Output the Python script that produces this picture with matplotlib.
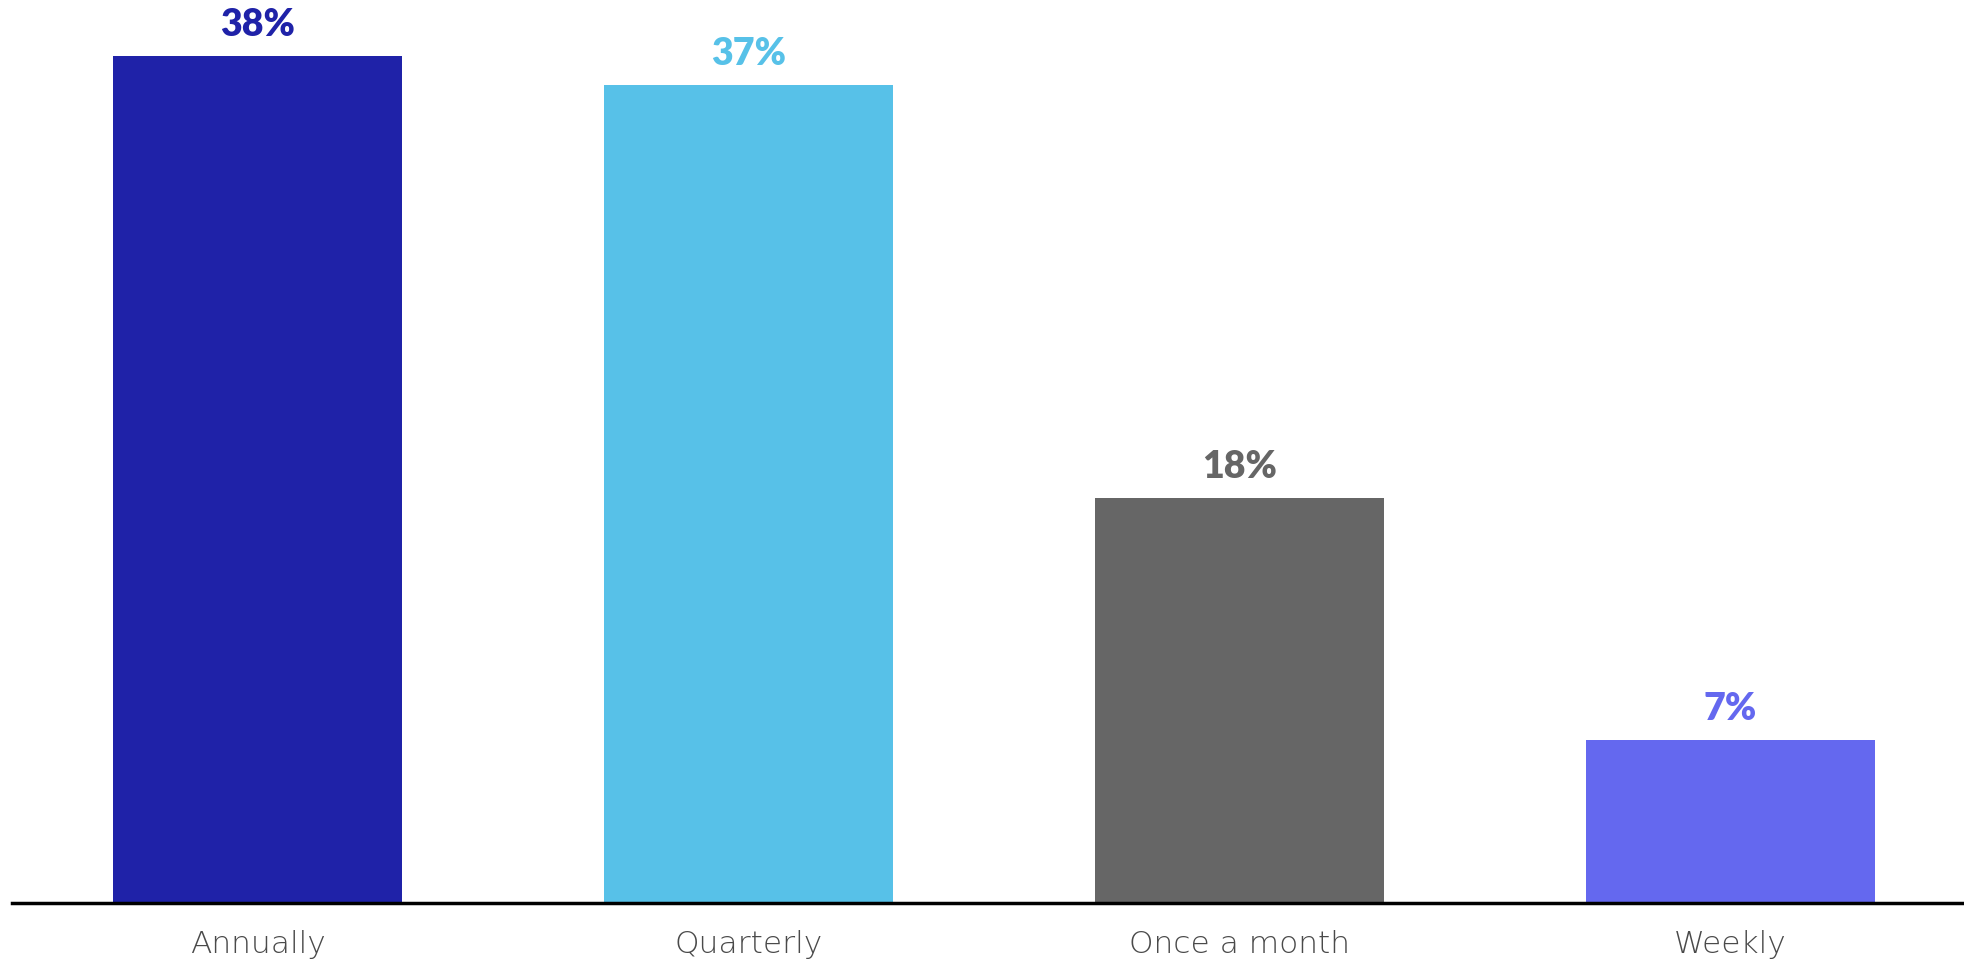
import matplotlib.pyplot as plt

categories = ['Annually', 'Quarterly', 'Once a month', 'Weekly']
values = [37.9, 36.6, 18.1, 7.3]
labels = ['38%', '37%', '18%', '7%']
colors = ['#1F22A8', '#57C1E8', '#666666', '#6468EF']

plt.rcParams['font.family'] = ['Lato', 'DejaVu Sans']

fig = plt.figure(figsize=(19.65, 9.62), dpi=100)
ax = fig.add_axes([12 / 1965, 58 / 962, 1953 / 1965, 904 / 962])

x = range(len(categories))
bars = ax.bar(x, values, width=0.589, color=colors, zorder=2)

for b, lab, c in zip(bars, labels, colors):
    ax.annotate(lab, (b.get_x() + b.get_width() / 2, b.get_height()),
                xytext=(0, 11), textcoords='offset points',
                ha='center', va='bottom', fontsize=27, fontweight='heavy', color=c)

ax.set_xlim(-0.5, 3.478)
ax.set_ylim(0, 40.45)
ax.set_xticks(list(x))
ax.set_xticklabels(categories, fontsize=22.5, color='#4a4a4a',
                   family=['DejaVu Sans'], fontweight='light')
ax.tick_params(axis='x', length=0, pad=19)
ax.set_yticks([])
for s in ['top', 'right', 'left']:
    ax.spines[s].set_visible(False)
ax.spines['bottom'].set_linewidth(2.5)
ax.spines['bottom'].set_color('black')
ax.spines['bottom'].set_zorder(3)

plt.savefig('out.png', dpi=100)
